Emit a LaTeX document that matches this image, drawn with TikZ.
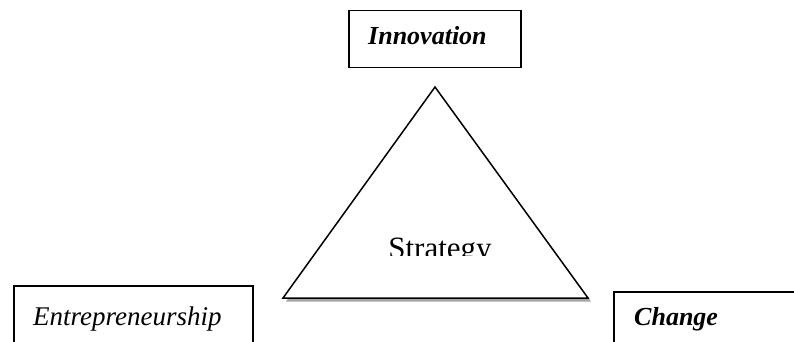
\documentclass[tikz,border=0pt]{standalone}
\usepackage{fontspec}
\setmainfont{Liberation Serif}
\usetikzlibrary{positioning}

\begin{document}
\begin{tikzpicture}[x=1pt,y=-1pt,
    box/.style={draw, line width=1.5pt, rectangle, anchor=north west, inner sep=0pt},
    lbl/.style={anchor=base west, inner sep=0pt},
    bigbold/.style={font=\fontsize{26}{30}\selectfont\bfseries\itshape}]
      \clip (0,0) rectangle (794,342);
      % boxes
      \node[box, minimum width=172pt, minimum height=57pt] (innov) at (348,10) {};
      \node[lbl, bigbold] (innovtxt) at (368,45) {Innovation};
      \node[box, minimum width=239pt, minimum height=90pt] (entre) at (13,285) {};
      \node[lbl, font=\fontsize{27}{30}\selectfont\itshape] (entretxt) at (33,325) {Entrepreneurship};
      \node[box, minimum width=220pt, minimum height=90pt] (change) at (613,291) {};
      \node[lbl, bigbold] (changetxt) at (634,325) {Change};
      % triangle with shadow
      \coordinate (apex) at (435,87);
      \coordinate (bl) at (283,298);
      \coordinate (br) at (588,298);
      \fill[gray!70] ([shift={(3,3.5)}]apex) -- ([shift={(3,3.5)}]bl) -- ([shift={(3,3.5)}]br) -- cycle;
      \draw[fill=white, line width=1.5pt, line join=miter] (apex) -- (bl) -- (br) -- cycle;
      \begin{scope}
        \clip (300,200) rectangle (570,255);
        \node[anchor=base, inner sep=0pt, font=\fontsize{31}{34}\selectfont] (strat) at (440,258) {Strategy};
      \end{scope}
\end{tikzpicture}
\end{document}
